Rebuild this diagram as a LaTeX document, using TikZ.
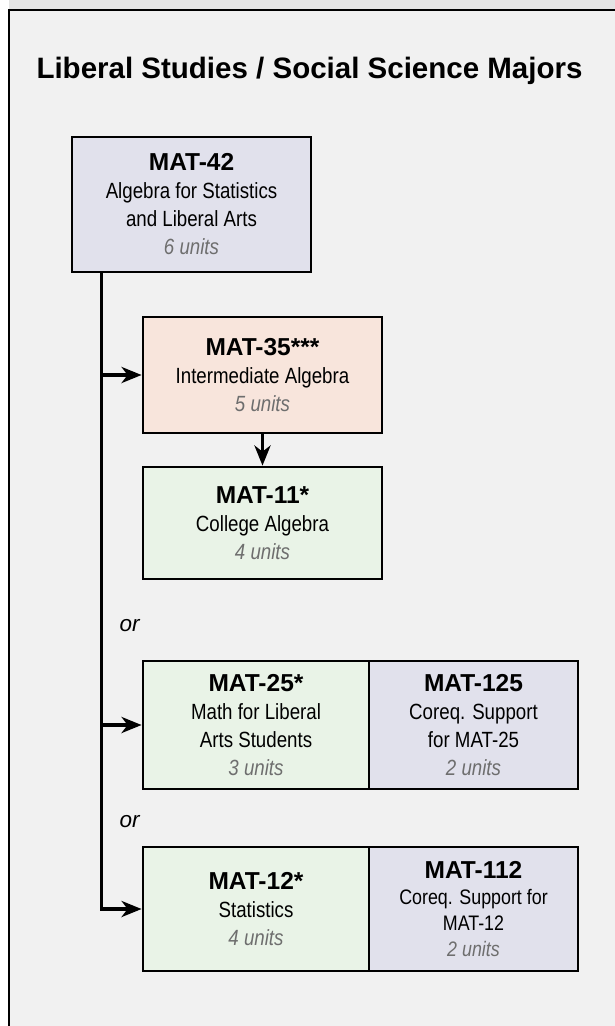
\documentclass[tikz,border=0pt]{standalone}
\usepackage{fontspec}
\usepackage{xcolor}
\setmainfont{Liberation Sans}
\newfontfamily\narrowfont[FakeStretch=0.85]{Liberation Sans}
\usetikzlibrary{arrows.meta}

\definecolor{pagegray}{HTML}{F1F1F1}
\definecolor{topgray}{HTML}{E4E4E4}
\definecolor{lavender}{HTML}{E1E1EC}
\definecolor{peach}{HTML}{F8E5DC}
\definecolor{mint}{HTML}{E9F3E7}
\definecolor{unitgray}{HTML}{6E6E6E}

\newcommand{\hd}{\rmfamily\bfseries\fontsize{24.5}{28}\selectfont}
\newcommand{\un}{\itshape\color{unitgray}}

\tikzset{
    course/.style={draw=black, line width=2.8pt, inner sep=0pt, align=center,
        font=\narrowfont\fontsize{22}{28}\selectfont},
    conn/.style={line width=3.6pt, line join=miter,
        -{Stealth[length=20pt, width=16pt, inset=6pt]}},
}

\begin{document}
\begin{tikzpicture}[x=1pt, y=-1pt]
    \useasboundingbox (0,0) rectangle (615,1026);
    \fill[white] (0,0) rectangle (615,1026);
    \fill[topgray] (9,0) rectangle (615,10);
    \fill[pagegray] (9,10) rectangle (615,1026);
    \draw[line width=2.4pt] (9,1026) -- (9,10) -- (615,10);

    \node[font=\bfseries\fontsize{29.5}{32}\selectfont, anchor=base] (title) at (309.5,78)
        {Liberal Studies / Social Science Majors};

    \node[course, fill=lavender, minimum width=239pt, minimum height=135pt] (m42) at (191.5,204.5)
        {{\hd MAT-42}\\Algebra for Statistics\\and Liberal Arts\\{\un 6 units}};
    \node[course, fill=peach, minimum width=239pt, minimum height=116pt] (m35) at (262.5,375)
        {{\hd MAT-35***}\\Intermediate Algebra\\{\un 5 units}};
    \node[course, fill=mint, minimum width=239pt, minimum height=112pt] (m11) at (262.5,523)
        {{\hd MAT-11*}\\College Algebra\\{\un 4 units}};

    \node[course, fill=mint, minimum width=226pt, minimum height=128pt] (m25) at (256,725)
        {{\hd MAT-25*}\\Math for Liberal\\Arts Students\\{\un 3 units}};
    \node[course, fill=lavender, minimum width=209pt, minimum height=128pt] (m125) at (473.5,725)
        {{\hd MAT-125}\\Coreq. Support\\for MAT-25\\{\un 2 units}};

    \node[course, fill=mint, minimum width=226pt, minimum height=124pt] (m12) at (256,909)
        {{\hd MAT-12*}\\Statistics\\{\un 4 units}};
    \node[course, fill=lavender, minimum width=209pt, minimum height=124pt,
        font=\narrowfont\fontsize{21}{26}\selectfont] (m112) at (473.5,909)
        {{\hd MAT-112}\\Coreq. Support for\\MAT-12\\{\un 2 units}};

    \node[font=\itshape\fontsize{22.5}{26}\selectfont, anchor=base west] (or1) at (116,631) {or};
    \node[font=\itshape\fontsize{22.5}{26}\selectfont, anchor=base west] (or2) at (116,827) {or};

    \coordinate (trunk) at (101.5,272);
    \draw[conn] (trunk) |- (m12.west);
    \draw[conn] (trunk |- m35.west) -- (m35.west);
    \draw[conn] (trunk |- m25.west) -- (m25.west);
    \draw[conn] (m35.south) -- (m11.north);
\end{tikzpicture}
\end{document}
